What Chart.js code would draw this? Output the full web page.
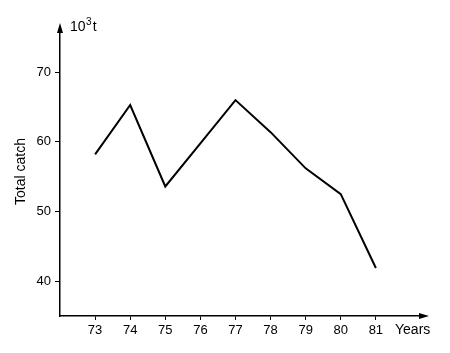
<!DOCTYPE html>
<html>
<head>
<meta charset="utf-8">
<script src="https://cdn.jsdelivr.net/npm/chart.js@4"></script>
<style>
  html, body { margin: 0; padding: 0; background: #fff; }
  #wrap { width: 450px; height: 353px; }
</style>
</head>
<body>
<div id="wrap"><canvas id="chartCatch"></canvas></div>
<script>
// data
const years = [73, 74, 75, 76, 77, 78, 79, 80, 81];
const catchValues = [58.2, 65.3, 53.6, 59.8, 66.0, 61.4, 56.2, 52.5, 41.9];
const yTicks = [40, 50, 60, 70];

const FONT = "'Liberation Sans', Arial, sans-serif";

// axis arrows plus the unit labels at the end of each axis
const axisExtras = {
    id: "axisExtras",
    afterDraw(chart) {
        const { ctx, chartArea } = chart;
        const x0 = chartArea.left, y0 = chartArea.bottom;
        const xEnd = chartArea.right, yEnd = chartArea.top;
        ctx.save();
        ctx.fillStyle = "#000";
        // up arrow
        ctx.beginPath();
        ctx.moveTo(x0, yEnd - 4);
        ctx.lineTo(x0 - 3, yEnd + 6);
        ctx.lineTo(x0 + 3, yEnd + 6);
        ctx.closePath();
        ctx.fill();
        // right arrow
        ctx.beginPath();
        ctx.moveTo(xEnd + 4, y0);
        ctx.lineTo(xEnd - 6, y0 - 3);
        ctx.lineTo(xEnd - 6, y0 + 3);
        ctx.closePath();
        ctx.fill();

        ctx.textBaseline = "alphabetic";
        ctx.textAlign = "left";
        // 10^3 t
        ctx.font = "14px " + FONT;
        let x = x0 + 10;
        ctx.fillText("10", x, yEnd + 4);
        x += ctx.measureText("10").width + 0.5;
        ctx.font = "10px " + FONT;
        ctx.fillText("3", x, yEnd - 2);
        x += ctx.measureText("3").width + 1;
        ctx.font = "14px " + FONT;
        ctx.fillText("t", x, yEnd + 4);

        ctx.font = "14px " + FONT;
        ctx.textBaseline = "middle";
        ctx.fillText("Years", xEnd - 30, y0 + 14);
        ctx.restore();
    }
};

new Chart(document.getElementById("chartCatch"), {
    type: "line",
    data: {
        datasets: [{
            label: "Total catch",
            data: years.map((y, i) => ({ x: y, y: catchValues[i] })),
            borderColor: "#000",
            borderWidth: 2,
            pointRadius: 0,
            tension: 0
        }]
    },
    options: {
        responsive: true,
        maintainAspectRatio: false,
        animation: false,
        layout: { padding: { top: 27, right: 25, left: 0, bottom: 0 } },
        plugins: {
            legend: { display: false },
            tooltip: { enabled: false }
        },
        scales: {
            x: {
                type: "linear",
                min: 72,
                max: 82.4,
                afterBuildTicks: (scale) => { scale.ticks = years.map(v => ({ value: v })); },
                afterFit: (scale) => { scale.height = 37; },
                grid: { drawOnChartArea: false, tickLength: 4, color: "#000", lineWidth: 1 },
                border: { display: true, color: "#000", width: 1.5 },
                ticks: { color: "#000", font: { family: FONT, size: 13 }, padding: 3, maxRotation: 0 }
            },
            y: {
                min: 35,
                max: 76.5,
                afterBuildTicks: (scale) => { scale.ticks = yTicks.map(v => ({ value: v })); },
                afterFit: (scale) => { scale.width = 60; },
                grid: { drawOnChartArea: false, tickLength: 5, color: "#000", lineWidth: 1 },
                border: { display: true, color: "#000", width: 1.5 },
                ticks: { color: "#000", font: { family: FONT, size: 13 }, padding: 4 },
                title: {
                    display: true,
                    text: "Total catch",
                    color: "#000",
                    font: { family: FONT, size: 14 },
                    padding: { top: 13, bottom: 0 }
                }
            }
        }
    },
    plugins: [axisExtras]
});
</script>
</body>
</html>
